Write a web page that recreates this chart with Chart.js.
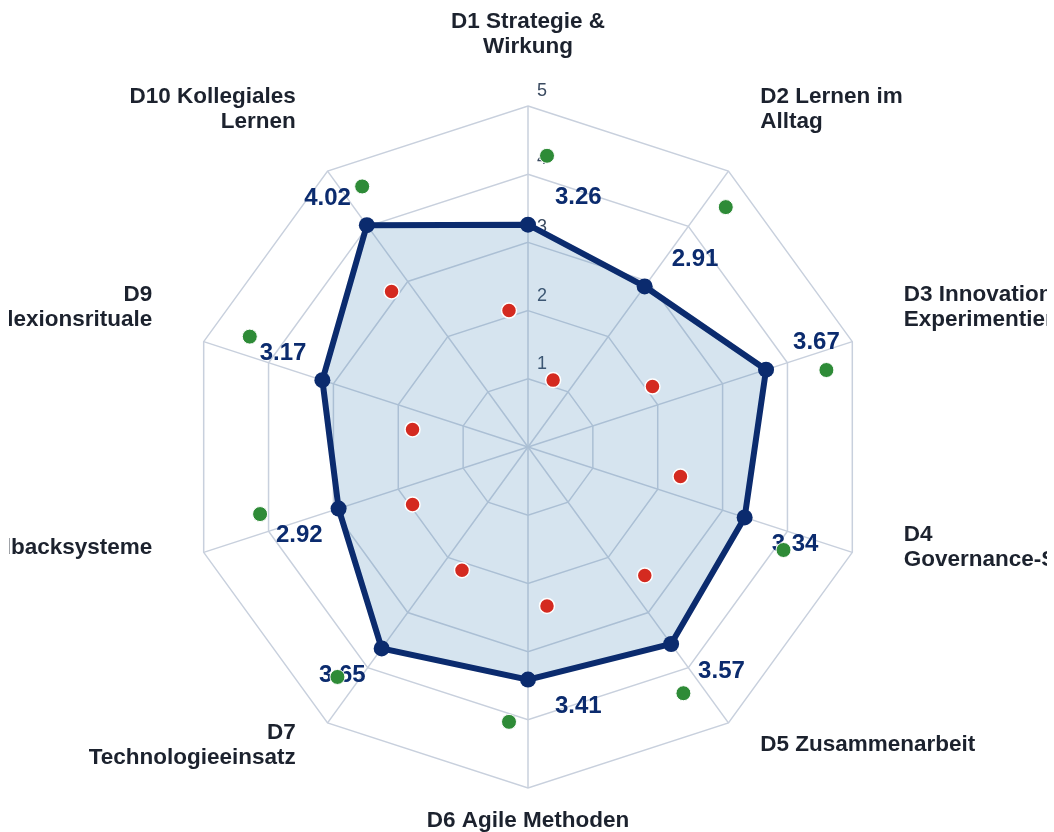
<!DOCTYPE html>
<html lang="de">
<head>
<meta charset="utf-8">
<title>Reifegrad-Radar</title>
<script src="https://cdn.jsdelivr.net/npm/chart.js@4"></script>
<style>
  html, body { margin: 0; padding: 0; background: #fff; overflow: hidden; }
  #wrap { position: absolute; left: 9px; top: 0; width: 1038px; height: 832px; overflow: hidden; }
</style>
</head>
<body>
<div id="wrap"><canvas id="radarChart" width="1038" height="832"></canvas></div>
<script>
const categories = [
    ['D1 Strategie &', 'Wirkung'],
    ['D2 Lernen im', 'Alltag'],
    ['D3 Innovation &', 'Experimentieren'],
    ['D4', 'Governance-Steuerung'],
    'D5 Zusammenarbeit',
    'D6 Agile Methoden',
    ['D7', 'Technologieeinsatz'],
    'D8 Feedbacksysteme',
    ['D9', 'Reflexionsrituale'],
    ['D10 Kollegiales', 'Lernen']
];
const meanValues = [3.26, 2.91, 3.67, 3.34, 3.57, 3.41, 3.65, 2.92, 3.17, 4.02];
const minValues = [2.00, 1.01, 2.01, 2.26, 2.53, 2.33, 2.03, 1.87, 1.69, 3.02];  // red dots
const maxValues = [4.27, 4.55, 4.51, 4.03, 4.26, 4.03, 4.37, 4.04, 4.38, 4.52];  // green dots
const rTicks = [1, 2, 3, 4, 5];

const FONT = '"Liberation Sans", Arial, Helvetica, sans-serif';
const NAVY = '#0b2b6e';
const GRID = '#c8d0dd';

// draws the labels by hand so they can run past the canvas edge like the original
const overlayPlugin = {
    id: 'overlay',
    afterDatasetsUpdate(chart) {
        // min / max dots sit a few pixels beside their axis
        const scale = chart.scales.r;
        chart.data.datasets.forEach((ds, di) => {
            if (!ds.sideShift) return;
            chart.getDatasetMeta(di).data.forEach((pt, i) => {
                const a = scale.getIndexAngle(i) - Math.PI / 2;
                pt.x += -Math.sin(a) * ds.sideShift;
                pt.y += Math.cos(a) * ds.sideShift;
            });
        });
    },
    beforeDatasetsDraw(chart) {
        const scale = chart.scales.r;
        const ctx = chart.ctx;
        ctx.save();
        ctx.font = '18px ' + FONT;
        ctx.fillStyle = '#3a4a60';
        ctx.textAlign = 'center';
        ctx.textBaseline = 'middle';
        rTicks.forEach(v => {
            const p = scale.getPointPosition(0, scale.getDistanceFromCenterForValue(v));
            ctx.fillText(String(v), p.x + 14, p.y - 15);
        });
        ctx.restore();
    },
    afterDatasetDraw(chart, args) {
        if (args.index !== 0) return;
        const scale = chart.scales.r;
        const ctx = chart.ctx;
        ctx.save();
        ctx.font = 'bold 24px ' + FONT;
        ctx.fillStyle = NAVY;
        ctx.textBaseline = 'middle';
        args.meta.data.forEach((pt, i) => {
            const a = scale.getIndexAngle(i) - Math.PI / 2;
            const right = Math.cos(a) > -0.01;
            const up = Math.sin(a) < 0;
            ctx.textAlign = right ? 'left' : 'right';
            ctx.fillText(meanValues[i].toFixed(2), pt.x + (right ? 27 : -16), pt.y + (up ? -27 : 27));
        });
        ctx.restore();
    },
    afterDraw(chart) {
        const scale = chart.scales.r;
        const ctx = chart.ctx;
        ctx.save();
        ctx.font = 'bold 22.5px ' + FONT;
        ctx.fillStyle = '#1c222e';
        ctx.textBaseline = 'middle';
        categories.forEach((lab, i) => {
            const lines = Array.isArray(lab) ? lab : [lab];
            const a = scale.getIndexAngle(i) - Math.PI / 2;
            const p = scale.getPointPosition(i, scale.drawingArea + 54);
            const cx = Math.cos(a), cy = Math.sin(a);
            ctx.textAlign = Math.abs(cx) < 0.01 ? 'center' : (cx > 0 ? 'left' : 'right');
            const mid = p.y + (cy < 0 ? -18 : -21.5);
            const first = mid - (lines.length - 1) * 25 / 2;
            lines.forEach((t, k) => ctx.fillText(t, p.x, first + k * 25));
        });
        ctx.restore();
    }
};

const ctx = document.getElementById('radarChart').getContext('2d');

const radarChart = new Chart(ctx, {
    type: 'radar',
    data: {
        labels: categories,
        datasets: [
            {
                label: 'Mittelwert',
                data: meanValues,
                order: 3,
                borderColor: NAVY,
                borderWidth: 6,
                backgroundColor: 'rgba(70, 130, 180, 0.22)',
                fill: true,
                pointRadius: 8,
                pointBackgroundColor: NAVY,
                pointBorderColor: NAVY,
                pointBorderWidth: 0
            },
            {
                label: 'Minimum',
                data: minValues,
                order: 2,
                sideShift: -19,
                showLine: false,
                fill: false,
                pointRadius: 7.5,
                pointBackgroundColor: '#d42a20',
                pointBorderColor: '#ffffff',
                pointBorderWidth: 1.5
            },
            {
                label: 'Maximum',
                data: maxValues,
                order: 1,
                sideShift: 19,
                showLine: false,
                fill: false,
                pointRadius: 7.5,
                pointBackgroundColor: '#2e8b37',
                pointBorderColor: '#ffffff',
                pointBorderWidth: 1
            }
        ]
    },
    options: {
        responsive: false,
        animation: false,
        events: [],
        layout: { padding: { left: 178, right: 178, top: 106, bottom: 44 } },
        plugins: {
            legend: { display: false },
            tooltip: { enabled: false }
        },
        scales: {
            r: {
                min: 0,
                max: 5,
                ticks: { stepSize: 1, display: false },
                grid: { color: GRID, lineWidth: 1.5 },
                angleLines: { color: GRID, lineWidth: 1.5 },
                pointLabels: { display: false }
            }
        }
    },
    plugins: [overlayPlugin]
});
</script>
</body>
</html>
